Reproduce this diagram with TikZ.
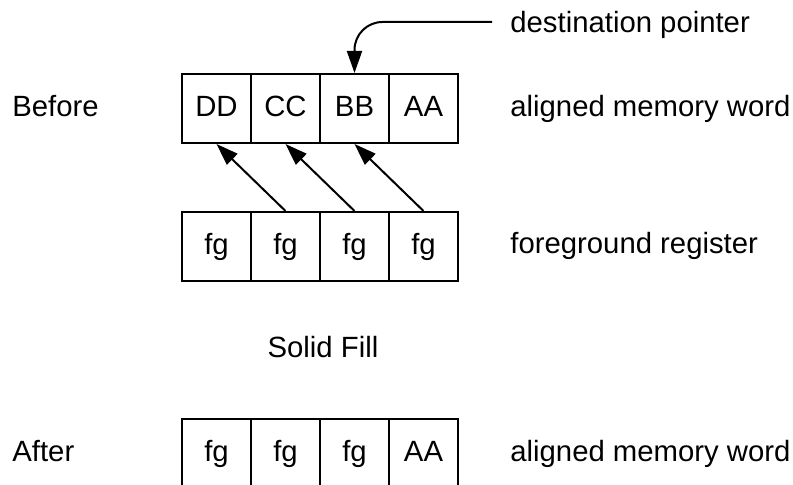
\documentclass[tikz,border=0pt]{standalone}
\usepackage{fontspec}
\setmainfont{Liberation Sans}
\usetikzlibrary{arrows.meta}

\tikzset{
  cell/.style={draw, line width=1pt, minimum width=34.5pt, minimum height=34.5pt,
    inner sep=0pt, text height=10.5pt, text depth=2pt},
  lbl/.style={anchor=base west, inner sep=0pt},
  tip/.style={-{Triangle[length=11pt,width=7.5pt]}, line width=1pt},
}

\begin{document}
\begin{tikzpicture}[x=0.5pt, y=-0.5pt, font=\fontsize{14.65}{17}\selectfont]
    \useasboundingbox (0,0) rectangle (793,485);
    \clip (0,0) rectangle (793,485);

    % memory word before, foreground register, memory word after
    \foreach \i/\txt in {1/DD, 2/CC, 3/BB, 4/AA}
      \node[cell] (b\i) at (147.5+69*\i, 108.5) {\txt};
    \foreach \i in {1,2,3,4}
      \node[cell] (r\i) at (147.5+69*\i, 246.5) {fg};
    \foreach \i/\txt in {1/fg, 2/fg, 3/fg, 4/AA}
      \node[cell] (a\i) at (147.5+69*\i, 453.5) {\txt};

    \node[lbl] (before) at (12,117) {Before};
    \node[lbl] (after) at (12,462) {After};
    \node[lbl] (dest) at (510,33) {destination pointer};
    \node[lbl] (wordb) at (510,117) {aligned memory word};
    \node[lbl] (fgreg) at (510,254) {foreground register};
    \node[lbl] (worda) at (510,462) {aligned memory word};
    \node[anchor=base, inner sep=0pt] (solid) at (323,358) {Solid Fill};

    \coordinate (dp) at (492,22);
    \draw[tip, rounded corners=14pt] (dp) -| (b3.north);

    \foreach \i/\j in {1/2, 2/3, 3/4}
      \draw[tip] (r\j.north) -- (b\i.south);
\end{tikzpicture}
\end{document}
